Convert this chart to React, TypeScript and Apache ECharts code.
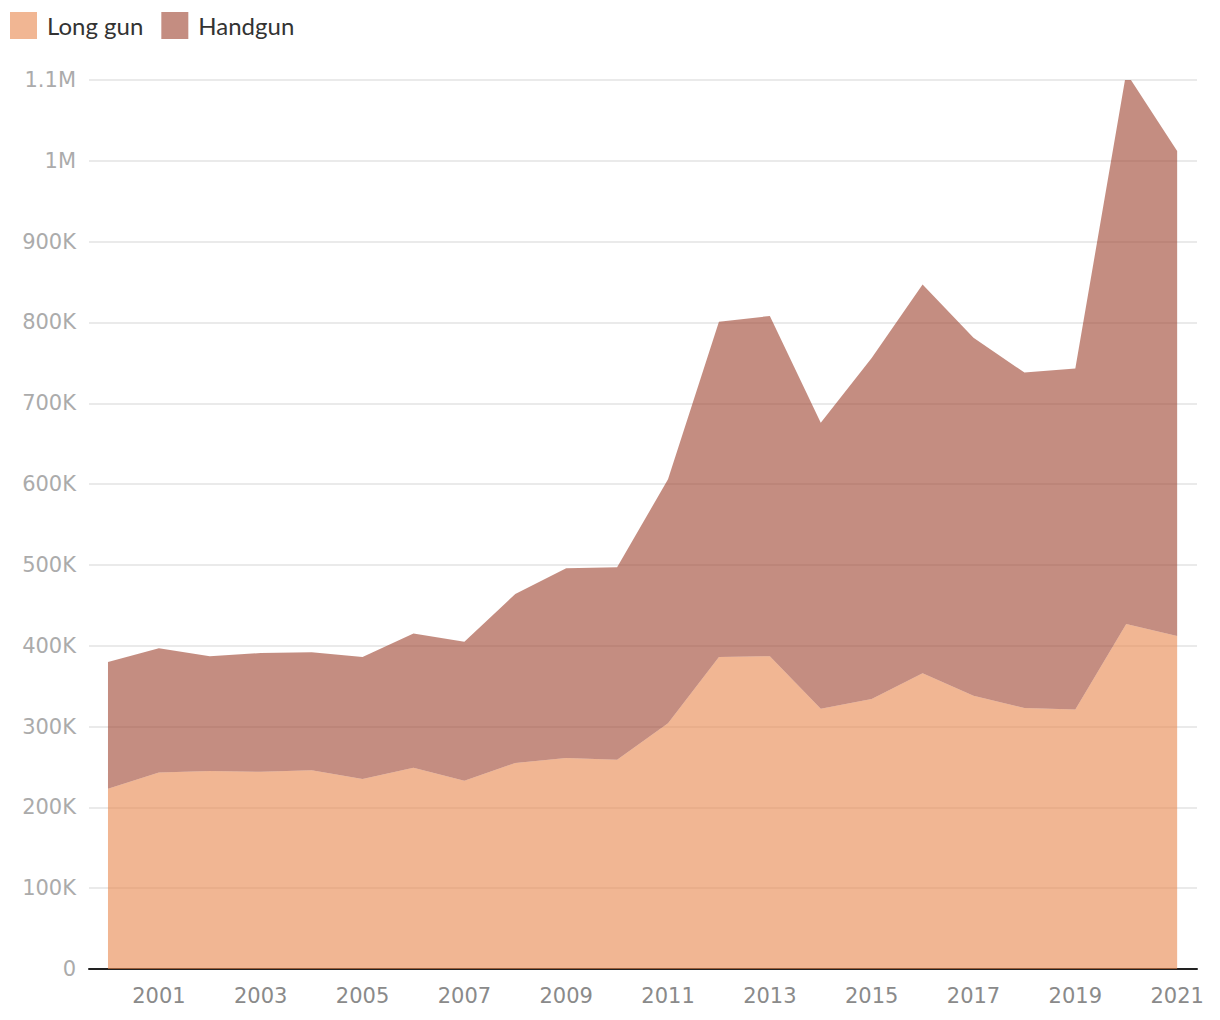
import React, { useEffect, useRef } from "react";
import * as echarts from "echarts";

const years = [2000, 2001, 2002, 2003, 2004, 2005, 2006, 2007, 2008, 2009, 2010, 2011, 2012, 2013, 2014, 2015, 2016, 2017, 2018, 2019, 2020, 2021];
const longGun = [223000, 243000, 245000, 244000, 246000, 235000, 249000, 233000, 255000, 261000, 259000, 304000, 386000, 387000, 322000, 334000, 366000, 338000, 323000, 321000, 427000, 412000];
const total = [380000, 397000, 387000, 391000, 392000, 386000, 415000, 405000, 464000, 496000, 497000, 606000, 801000, 808000, 676000, 756000, 847000, 781000, 738000, 743000, 1109000, 1012000];
const handgun = total.map((t, i) => t - longGun[i]);
const xLabelYears = [2001, 2003, 2005, 2007, 2009, 2011, 2013, 2015, 2017, 2019, 2021];

const fmtY = (v: number) => {
  if (v === 0) return "0";
  if (v >= 1000000) return (v / 1000000).toString() + "M";
  return (v / 1000).toString() + "K";
};

export default function App() {
  const ref = useRef<HTMLDivElement>(null);
  useEffect(() => {
    const chart = echarts.init(ref.current!, null, { renderer: "svg" });
    chart.setOption({
      animation: false,
      legend: {
        left: 10,
        top: 12,
        padding: 0,
        icon: "rect",
        itemWidth: 27,
        itemHeight: 27,
        itemGap: 18,
        textStyle: { fontFamily: "Lato", fontSize: 24, color: "#333", padding: [0, 0, 0, 5] },
        data: [
          { name: "Long gun", itemStyle: { color: "#F1B693" } },
          { name: "Handgun", itemStyle: { color: "#C48D81" } },
        ],
      },
      grid: { left: 89, right: 23, top: 80, bottom: 51, containLabel: false },
      xAxis: {
        type: "value",
        min: 1999.627,
        max: 2021.39,
        splitLine: { show: false },
        axisTick: { show: false },
        axisLine: { show: true, lineStyle: { color: "#222", width: 2 } },
        axisLabel: {
          customValues: xLabelYears,
          formatter: (v: number) => String(v),
          color: "#8a8a8a",
          fontSize: 21,
          fontFamily: "DejaVu Sans",
          margin: 16,
        },
      },
      yAxis: {
        type: "value",
        min: 0,
        max: 1100000,
        interval: 100000,
        axisLine: { show: false },
        axisTick: { show: false },
        splitLine: { show: true, lineStyle: { color: "#e3e3e3", width: 1.5 } },
        axisLabel: {
          formatter: fmtY,
          color: "#ababab",
          fontSize: 21,
          fontFamily: "DejaVu Sans",
          margin: 13,
        },
      },
      series: [
        {
          name: "Long gun",
          type: "line",
          stack: "total",
          symbol: "none",
          encode: { x: 1, y: 0 },
          lineStyle: { width: 0 },
          itemStyle: { color: "#F1B693" },
          areaStyle: { color: "rgba(232,133,75,0.6)", opacity: 1 },
          data: years.map((y, i) => [longGun[i], y]),
        },
        {
          name: "Handgun",
          type: "line",
          stack: "total",
          symbol: "none",
          encode: { x: 1, y: 0 },
          lineStyle: { width: 0 },
          itemStyle: { color: "#C48D81" },
          areaStyle: { color: "rgba(157,65,45,0.6)", opacity: 1 },
          data: years.map((y, i) => [handgun[i], y]),
        },
      ],
    });
    return () => chart.dispose();
  }, []);
  return <div ref={ref} style={{ position: "absolute", left: 0, top: 0, width: 1220, height: 1020 }} />;
}
